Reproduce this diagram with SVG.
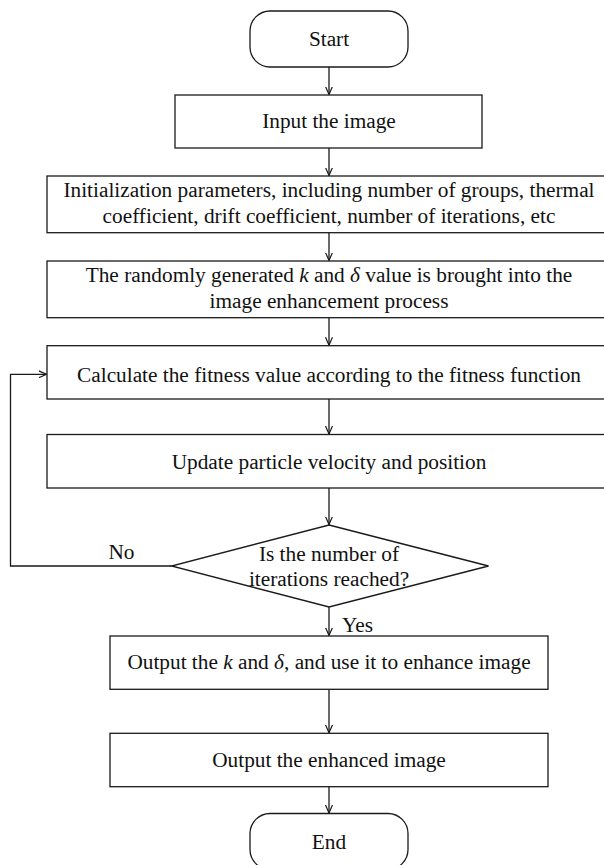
<svg xmlns="http://www.w3.org/2000/svg" width="604" height="865" viewBox="0 0 604 865">
<style>
.box{fill:#fff;stroke:#1a1a1a;stroke-width:1.3}
.t{font-family:"Liberation Serif","Times New Roman",serif;font-size:21.3px;fill:#111;text-anchor:middle}
.tl{font-family:"Liberation Serif","Times New Roman",serif;font-size:21.3px;fill:#111}
.c{fill:none;stroke:#1a1a1a;stroke-width:1.3}
.i{font-style:italic}
</style>
<defs>
<marker id="ah" markerUnits="userSpaceOnUse" markerWidth="10" markerHeight="10" refX="8" refY="4" orient="auto">
<path d="M0,0.5 L8,4 L0,7.5" fill="none" stroke="#1a1a1a" stroke-width="1.2"/>
</marker>
</defs>
<rect width="604" height="865" fill="#fff"/>
<g id="connectors">
<line class="c" x1="329" y1="67" x2="329" y2="94.5" marker-end="url(#ah)"/>
<line class="c" x1="329" y1="148" x2="329" y2="175.5" marker-end="url(#ah)"/>
<line class="c" x1="329" y1="232.7" x2="329" y2="260.5" marker-end="url(#ah)"/>
<line class="c" x1="329" y1="317.7" x2="329" y2="345.2" marker-end="url(#ah)"/>
<line class="c" x1="329" y1="399" x2="329" y2="434" marker-end="url(#ah)"/>
<line class="c" x1="329" y1="488" x2="329" y2="524.5" marker-end="url(#ah)"/>
<line class="c" x1="329" y1="607" x2="329" y2="635.5" marker-end="url(#ah)"/>
<line class="c" x1="329" y1="689.3" x2="329" y2="732.8" marker-end="url(#ah)"/>
<line class="c" x1="329" y1="786.7" x2="329" y2="813" marker-end="url(#ah)"/>
<polyline class="c" points="171.5,566 10.5,566 10.5,374.3 46.5,374.3" marker-end="url(#ah)"/>
<text class="t" x="121.5" y="558.5">No</text>
<text class="tl" x="342" y="631.5">Yes</text>
</g>
<g id="start">
<rect class="box" x="250" y="11" width="158" height="56" rx="20"/>
<text class="t" x="329" y="46">Start</text>
</g>
<g id="input">
<rect class="box" x="175" y="95" width="307" height="53"/>
<text class="t" x="329" y="128">Input the image</text>
</g>
<g id="init">
<rect class="box" x="47" y="176" width="564" height="56.7"/>
<text class="t" x="329" y="197">Initialization parameters, including number of groups, thermal</text>
<text class="t" x="329" y="222.5">coefficient, drift coefficient, number of iterations, etc</text>
</g>
<g id="random">
<rect class="box" x="47" y="261" width="564" height="56.7"/>
<text class="t" x="329" y="282">The randomly generated <tspan class="i">k</tspan> and <tspan class="i">δ</tspan> value is brought into the</text>
<text class="t" x="329" y="307.5">image enhancement process</text>
</g>
<g id="calc">
<rect class="box" x="47" y="345.7" width="564" height="53.3"/>
<text class="t" x="329" y="381.5">Calculate the fitness value according to the fitness function</text>
</g>
<g id="update">
<rect class="box" x="47" y="434.5" width="564" height="53.5"/>
<text class="t" x="329" y="469">Update particle velocity and position</text>
</g>
<g id="decision">
<polygon class="box" points="329,525 488.5,566 329,607 171.5,566"/>
<text class="t" x="329" y="560.5">Is the number of</text>
<text class="t" x="329" y="585.5">iterations reached?</text>
</g>
<g id="outputk">
<rect class="box" x="110" y="636" width="438" height="53.3"/>
<text class="t" x="329" y="669">Output the <tspan class="i">k</tspan> and <tspan class="i">δ</tspan>, and use it to enhance image</text>
</g>
<g id="outputimg">
<rect class="box" x="110" y="733.3" width="438" height="53.4"/>
<text class="t" x="329" y="767">Output the enhanced image</text>
</g>
<g id="end">
<rect class="box" x="250" y="813.5" width="158" height="56" rx="20"/>
<text class="t" x="329" y="848.5">End</text>
</g>
</svg>
